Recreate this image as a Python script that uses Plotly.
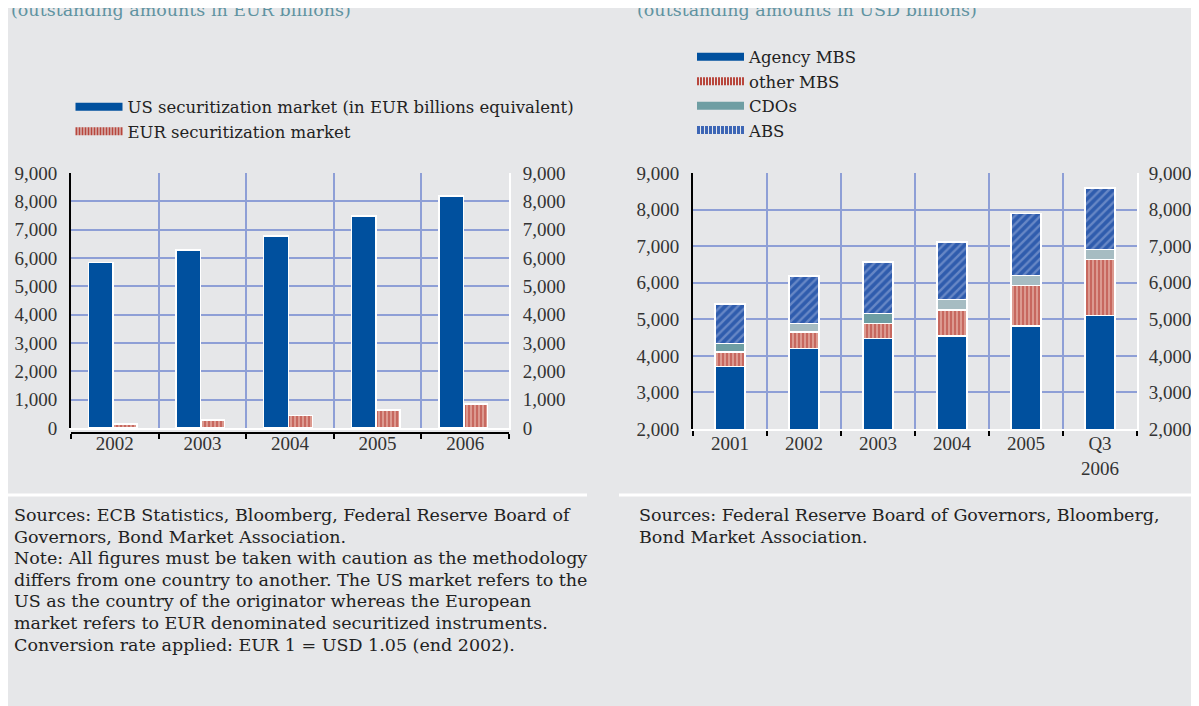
import plotly.graph_objects as go

# page has an 8px body margin, so the figure sits at (8, 8)
OFF = 8
W, H = 1199 - OFF, 706 - OFF

# ---- data: left chart (EUR billions) ----
years_left = ["2002", "2003", "2004", "2005", "2006"]
us_market = [5850, 6290, 6780, 7480, 8190]
eur_market = [150, 290, 440, 640, 850]

# ---- data: right chart (USD billions) ----
years_right = ["2001", "2002", "2003", "2004", "2005", "Q3<br>2006"]
agency_mbs = [3710, 4200, 4480, 4545, 4820, 5100]
other_mbs = [390, 455, 400, 710, 1100, 1530]
cdos = [240, 235, 280, 290, 280, 280]
abs_ = [1080, 1290, 1400, 1575, 1690, 1680]

# ---- texts ----
subtitles = ["(outstanding amounts in EUR billions)", "(outstanding amounts in USD billions)"]
note_left = ["Sources: ECB Statistics, Bloomberg, Federal Reserve Board of",
             "Governors, Bond Market Association.",
             "Note: All figures must be taken with caution as the methodology",
             "differs from one country to another. The US market refers to the",
             "US as the country of the originator whereas the European",
             "market refers to EUR denominated securitized instruments.",
             "Conversion rate applied: EUR 1 = USD 1.05 (end 2002)."]
note_right = ["Sources: Federal Reserve Board of Governors, Bloomberg,",
              "Bond Market Association."]

BG = "#e6e7e9"
GRID = "#8e9fd6"
BLUE = "#00509e"
TICKFONT = "Liberation Serif"
TEXTFONT = "DejaVu Serif"


def px(x):
    # page pixel -> paper x
    return (x - OFF) / W


def py(y):
    # page pixel -> paper y
    return 1 - (y - OFF) / H


red_pattern = dict(shape="|", fgcolor="#b2352d", bgcolor="#dc9a90", size=4, solidity=0.5)
abs_pattern = dict(shape="/", fgcolor="#9fb2de", bgcolor="#2f5cad", size=6, solidity=0.4)
outline = dict(color="white", width=1.5)

fig = go.Figure()

# left chart: US on the left axis, EUR on the right one, placed side by side
fig.add_trace(go.Bar(x=years_left, y=us_market, xaxis="x", yaxis="y",
                     width=0.28, offset=-0.30, marker=dict(color=BLUE, line=outline),
                     showlegend=False))
fig.add_trace(go.Bar(x=years_left, y=eur_market, xaxis="x", yaxis="y2",
                     width=0.27, offset=-0.015,
                     marker=dict(color="#d9958c", line=outline, pattern=red_pattern),
                     showlegend=False))
# carrier for the black bracket axis just under the left chart
fig.add_trace(go.Scatter(x=years_left, y=[None] * len(years_left), xaxis="x4", yaxis="y",
                         mode="markers", showlegend=False, hoverinfo="skip"))

# right chart: stacked
fig.add_trace(go.Bar(x=years_right, y=agency_mbs, xaxis="x2", yaxis="y3", width=0.4,
                     marker=dict(color=BLUE, line=outline), showlegend=False))
fig.add_trace(go.Bar(x=years_right, y=other_mbs, xaxis="x2", yaxis="y3", width=0.4,
                     marker=dict(color="#d9958c", line=outline, pattern=red_pattern),
                     showlegend=False))
fig.add_trace(go.Bar(x=years_right, y=cdos, xaxis="x2", yaxis="y3", width=0.4,
                     marker=dict(color=["#6e9ea3", "#a6bcc2", "#6e9ea3", "#a6bcc2", "#a6bcc2", "#a6bcc2"],
                                 line=outline), showlegend=False))
fig.add_trace(go.Bar(x=years_right, y=abs_, xaxis="x2", yaxis="y3", width=0.4,
                     marker=dict(color="#3d66b5", line=outline, pattern=abs_pattern),
                     showlegend=False))

# legend entries (wide swatches like the original)
leg_left = [("US securitization market (in EUR billions equivalent)", BLUE, "solid"),
            ("EUR securitization market", "#b8463c", "2px,1px")]
for name, col, dash in leg_left:
    fig.add_trace(go.Scatter(x=[None], y=[None], xaxis="x", yaxis="y2", mode="lines",
                             name=name, line=dict(color=col, width=8, dash=dash),
                             legend="legend"))
leg_right = [("Agency MBS", BLUE, "solid"), ("other MBS", "#b8463c", "2px,1px"),
             ("CDOs", "#6e9ea3", "solid"), ("ABS", "#3d66b5", "3px,1px")]
for name, col, dash in leg_right:
    fig.add_trace(go.Scatter(x=[None], y=[None], xaxis="x2", yaxis="y4", mode="lines",
                             name=name, line=dict(color=col, width=8, dash=dash),
                             legend="legend2"))

# subtitles: drawn as text on a hidden full-page axis so they are cut by the top edge
fig.add_trace(go.Scatter(x=[11, 637], y=[12, 12], xaxis="x3", yaxis="y5", mode="text",
                         text=subtitles, textposition="middle right", cliponaxis=False,
                         textfont=dict(family=TEXTFONT, size=17.5, color="#5f93a1"),
                         showlegend=False, hoverinfo="skip"))

tickfont = dict(family=TICKFONT, size=19, color="#333333")
yax = dict(range=[0, 9000], dtick=1000, tickformat=",", showgrid=True, gridcolor=GRID,
           gridwidth=1.5, zeroline=False, tickfont=tickfont, ticks="",
           ticklabelstandoff=8, fixedrange=True)
xax = dict(tickson="boundaries", showgrid=True, gridcolor=GRID, gridwidth=1.5,
           showline=True, linewidth=2, ticks="outside", ticklen=5, tickcolor="black",
           tickwidth=2, tickfont=tickfont, fixedrange=True)
legfont = dict(family=TEXTFONT, size=16.5, color="#222222")

fig.update_layout(
    width=W, height=H, margin=dict(l=0, r=0, t=0, b=0, autoexpand=False),
    paper_bgcolor=BG, plot_bgcolor="rgba(0,0,0,0)", barmode="stack",
    font=dict(family=TEXTFONT, size=17, color="#222222"),
    xaxis=dict(xax, domain=[px(71), px(509)], anchor="y", linecolor="white",
               ticks="", ticklabelstandoff=-3),
    xaxis4=dict(overlaying="x", anchor="free", position=py(433), type="category",
                range=[-0.5, len(years_left) - 0.5], tickson="boundaries",
                showgrid=False, showline=True, linecolor="black", linewidth=2,
                ticks="outside", ticklen=5, tickwidth=2, tickcolor="black",
                showticklabels=False, fixedrange=True),
    yaxis=dict(yax, domain=[py(428), py(173)], anchor="x", showline=True,
               linecolor="black", linewidth=2),
    yaxis2=dict(yax, overlaying="y", side="right", anchor="x", showgrid=False,
                showline=True, linecolor="white", linewidth=2),
    xaxis2=dict(xax, domain=[px(693), px(1137)], anchor="y3", linecolor="white",
                ticklabelstandoff=-4),
    yaxis3=dict(yax, range=[2000, 9000], domain=[py(429), py(173)], anchor="x2",
                showline=True, linecolor="black", linewidth=2),
    yaxis4=dict(yax, range=[2000, 9000], overlaying="y3", side="right", anchor="x2",
                showgrid=False, showline=True, linecolor="white", linewidth=2,
                ticklabelstandoff=6),
    xaxis3=dict(domain=[0, 1], range=[OFF, 1199], anchor="y5", visible=False, fixedrange=True),
    yaxis5=dict(domain=[0, 1], range=[706, OFF], anchor="x3", visible=False, fixedrange=True),
    legend=dict(x=px(70.5), y=py(89.5), xanchor="left", yanchor="top", bgcolor="rgba(0,0,0,0)",
                font=legfont, tracegroupgap=0, itemwidth=47, traceorder="normal"),
    legend2=dict(x=px(692), y=py(39.5), xanchor="left", yanchor="top", bgcolor="rgba(0,0,0,0)",
                 font=legfont, tracegroupgap=0, itemwidth=47, traceorder="normal"),
)

# white separators above the source notes
fig.add_shape(type="line", xref="paper", yref="paper", x0=px(4), x1=px(587),
              y0=py(495), y1=py(495), line=dict(color="white", width=3))
fig.add_shape(type="line", xref="paper", yref="paper", x0=px(619), x1=1,
              y0=py(495), y1=py(495), line=dict(color="white", width=3))

notefont = dict(family=TEXTFONT, size=17.5, color="#222222")
for i, line in enumerate(note_left):
    fig.add_annotation(x=px(12), y=py(515 + 21.6 * i), xref="paper", yref="paper",
                       xanchor="left", yanchor="middle", showarrow=False, text=line,
                       font=notefont)
for i, line in enumerate(note_right):
    fig.add_annotation(x=px(637), y=py(515 + 21.6 * i), xref="paper", yref="paper",
                       xanchor="left", yanchor="middle", showarrow=False, text=line,
                       font=notefont)

fig.write_html("out.html")
